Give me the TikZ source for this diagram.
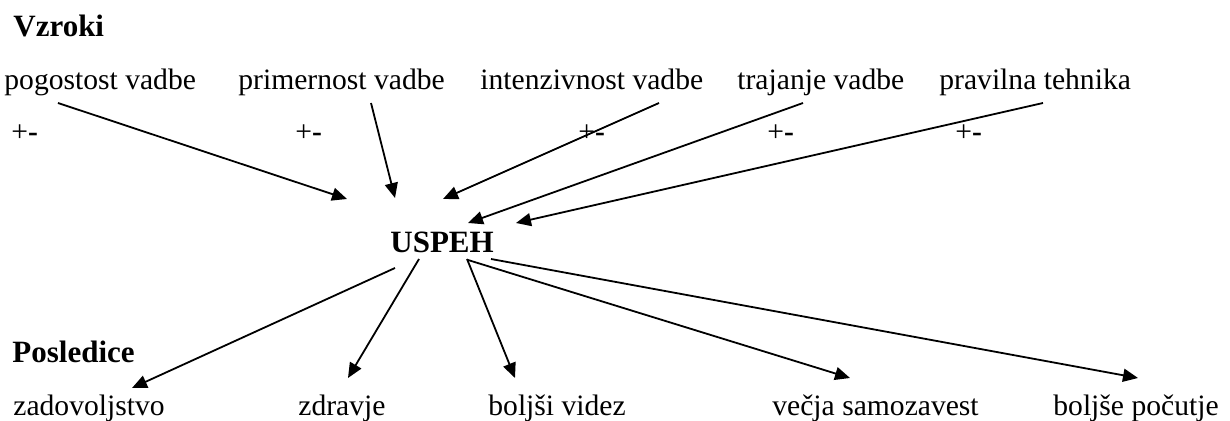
\documentclass[tikz,border=0pt]{standalone}
\usepackage{fontspec}
\setmainfont{Liberation Serif}
\usetikzlibrary{arrows.meta}

\tikzset{
  lbl/.style={anchor=base west, inner sep=0pt, font=\fontsize{14.8pt}{17pt}\selectfont},
  head/.style={anchor=base west, inner sep=0pt, font=\fontsize{15.5pt}{18pt}\selectfont\bfseries},
  pm/.style={lbl},
  link/.style={line width=0.9pt, -{Triangle[length=7.5pt,width=6.5pt]}}
}
\newcommand{\plusminus}{+\textbf{-}}

\begin{document}
\begin{tikzpicture}[x=0.5pt,y=-0.5pt]
\useasboundingbox (0,0) rectangle (1230,421);

% headings
\node[head] (vzroki) at (13,37) {Vzroki};
\node[head] (posledice) at (12,363) {Posledice};
\node[head] (uspeh) at (390,253) {USPEH};

% causes
\node[lbl] (pog) at (4,90) {pogostost vadbe};
\node[lbl] (pri) at (238,90) {primernost vadbe};
\node[lbl] (int) at (480,90) {intenzivnost vadbe};
\node[lbl] (tra) at (737,90) {trajanje vadbe};
\node[lbl] (teh) at (939,90) {pravilna tehnika};

% +- marks
\node[pm] (pm1) at (11,142) {\plusminus};
\node[pm] (pm2) at (295,142) {\plusminus};
\node[pm] (pm3) at (578,142) {\plusminus};
\node[pm] (pm4) at (767,142) {\plusminus};
\node[pm] (pm5) at (955,142) {\plusminus};

% consequences
\node[lbl] (zad) at (13,416) {zadovoljstvo};
\node[lbl] (zdr) at (298,416) {zdravje};
\node[lbl] (vid) at (488,416) {boljši videz};
\node[lbl] (sam) at (772,416) {večja samozavest};
\node[lbl] (poc) at (1053,416) {boljše počutje};

% arrow end points
\coordinate (pogS) at (58,103);   \coordinate (pogE) at (347,199);
\coordinate (priS) at (371,103);  \coordinate (priE) at (395,198);
\coordinate (intS) at (659,103);  \coordinate (intE) at (443,199);
\coordinate (traS) at (803,103);  \coordinate (traE) at (468,223);
\coordinate (tehS) at (1043,103); \coordinate (tehE) at (516,223);

\coordinate (zadS) at (395,268);  \coordinate (zadE) at (132,388);
\coordinate (zdrS) at (419,259);  \coordinate (zdrE) at (348,378);
\coordinate (vidS) at (467,259);  \coordinate (vidE) at (515,378);
\coordinate (samS) at (468,260);  \coordinate (samE) at (850,378);
\coordinate (pocS) at (491,259);  \coordinate (pocE) at (1138,378);

% causes -> success
\draw[link] (pogS) -- (pogE);
\draw[link] (priS) -- (priE);
\draw[link] (intS) -- (intE);
\draw[link] (traS) -- (traE);
\draw[link] (tehS) -- (tehE);

% success -> consequences
\draw[link] (zadS) -- (zadE);
\draw[link] (zdrS) -- (zdrE);
\draw[link] (vidS) -- (vidE);
\draw[link] (samS) -- (samE);
\draw[link] (pocS) -- (pocE);
\end{tikzpicture}
\end{document}
